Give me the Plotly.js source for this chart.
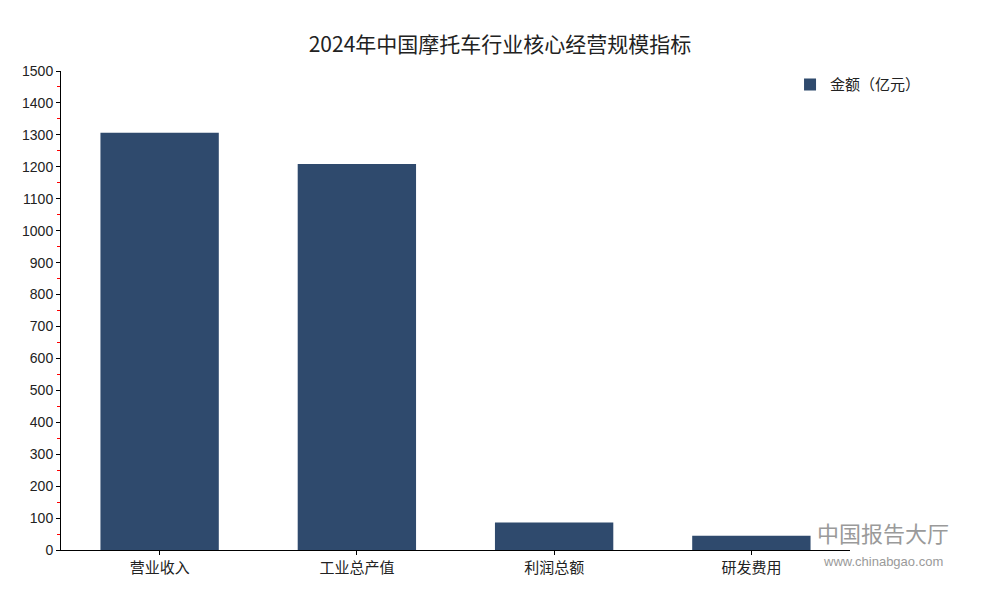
<!DOCTYPE html>
<html><head><meta charset="utf-8">
<script src="https://cdn.plot.ly/plotly-3.0.1.min.js"></script>
<style>body{margin:0;background:#fff}#chart{width:1000px;height:600px}</style>
</head><body><div id="chart"></div>
<script>
var categories = ["营业收入", "工业总产值", "利润总额", "研发费用"];
var values = [1307, 1209, 86, 45];
var seriesName = "金额（亿元）";
var chartTitle = "2024年中国摩托车行业核心经营规模指标";

var cjk = '"Noto Sans CJK SC", "Liberation Sans", sans-serif';
var data = [{
  type: 'bar', x: categories, y: values, name: seriesName,
  marker: {color: '#2F4A6D'}, hoverinfo: 'x+y'
}];
var layout = {
  width: 1000, height: 600,
  margin: {l: 61, r: 150, t: 71, b: 50},
  paper_bgcolor: '#fff', plot_bgcolor: '#fff',
  title: {text: chartTitle, font: {family: cjk, size: 21, color: '#222'}, x: 0.5, xanchor: 'center', xref: 'container', yref: 'container', y: 0.925, yanchor: 'middle'},
  bargap: 0.4,
  showlegend: true,
  legend: {x: 0.924, y: 1.006, xanchor: 'left', yanchor: 'top', font: {family: cjk, size: 15, color: '#222'}, bgcolor: 'rgba(0,0,0,0)', itemwidth: 30},
  xaxis: {
    type: 'category', showline: true, linecolor: '#000', linewidth: 1,
    ticks: 'outside', ticklen: 4, tickcolor: '#000', showgrid: false,
    tickfont: {family: cjk, size: 15, color: '#222'}, zeroline: false
  },
  yaxis: {
    range: [0, 1500], dtick: 100, tick0: 0, showline: true, linecolor: '#000', linewidth: 1,
    ticks: 'outside', ticklen: 4, tickcolor: '#000', showgrid: false, zeroline: false,
    tickfont: {family: '"Liberation Sans", Arial, sans-serif', size: 14, color: '#222'},
    minor: {dtick: 50, ticks: 'outside', ticklen: 3, tickcolor: '#ff0000', showgrid: false}
  },
  annotations: [
    {text: '中国报告大厅', xref: 'paper', yref: 'paper', x: 1.042, y: 0.0, xanchor: 'center', yanchor: 'bottom', showarrow: false, font: {family: cjk, size: 22, color: '#9a9a9a'}},
    {text: 'www.chinabgao.com', xref: 'paper', yref: 'paper', x: 1.042, y: -0.005, xanchor: 'center', yanchor: 'top', showarrow: false, font: {family: '"Liberation Sans", Arial, sans-serif', size: 13, color: '#9a9a9a'}}
  ]
};
Plotly.newPlot('chart', data, layout, {displayModeBar: false, staticPlot: true});
</script></body></html>
